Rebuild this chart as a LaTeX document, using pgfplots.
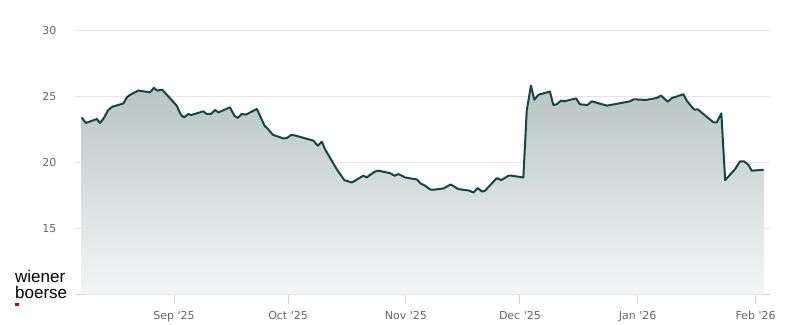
\documentclass[border=0pt]{standalone}
\usepackage{pgfplots}
\pgfplotsset{compat=1.18}
\usepackage{pgfplotstable}
\usepackage{fontspec}
\setmainfont{DejaVu Sans}
\newfontfamily\logofont{Liberation Sans}
\definecolor{linec}{RGB}{16,72,66}
\definecolor{filltop}{RGB}{184,196,195}
\definecolor{fillbot}{RGB}{245,247,247}
\definecolor{gridc}{RGB}{230,230,230}
\definecolor{axisc}{RGB}{204,214,235}
\definecolor{labc}{RGB}{102,102,102}
\definecolor{logored}{RGB}{208,0,27}

% d = days since 1 Sep 2025, v = price
\pgfplotstableread{
d v
-24.3 23.39
-23.2 22.97
-20.3 23.27
-19.5 22.97
-18.6 23.27
-17.3 23.95
-16.2 24.20
-13.3 24.45
-12.4 24.91
-11.6 25.09
-9.4 25.42
-6.3 25.29
-5.3 25.62
-4.4 25.42
-3.1 25.49
0.7 24.28
1.8 23.60
2.6 23.39
3.8 23.65
4.5 23.57
7.7 23.85
8.6 23.65
9.7 23.65
10.8 23.95
11.7 23.77
14.7 24.15
15.9 23.52
16.8 23.35
17.8 23.65
18.9 23.60
21.8 24.03
23.8 22.77
24.7 22.52
26.0 22.08
28.8 21.80
29.7 21.83
30.8 22.06
31.8 22.03
36.7 21.63
37.8 21.25
38.9 21.55
39.7 21.00
42.8 19.48
44.8 18.65
46.8 18.47
49.8 18.98
50.7 18.85
51.6 19.05
52.9 19.30
53.8 19.36
56.8 19.18
58.0 18.98
59.0 19.10
59.5 19.05
60.8 18.85
63.9 18.70
64.9 18.39
66.1 18.22
67.4 17.94
68.2 17.92
70.9 18.02
72.8 18.32
74.8 17.97
77.6 17.86
78.8 17.71
79.9 18.05
81.0 17.79
81.8 17.84
84.9 18.80
86.1 18.65
88.0 18.98
88.9 18.98
91.9 18.85
92.8 23.90
93.9 25.80
94.8 24.73
95.9 25.11
98.9 25.34
99.8 24.33
100.7 24.38
101.8 24.66
102.7 24.61
105.8 24.83
106.8 24.38
108.8 24.33
109.9 24.61
113.9 24.28
120.0 24.61
120.9 24.76
124.2 24.71
127.0 24.86
128.1 25.04
129.9 24.58
131.0 24.86
134.0 25.14
134.9 24.66
135.8 24.33
136.9 23.98
137.8 24.00
141.9 23.02
142.8 23.02
144.0 23.70
145.0 18.65
147.6 19.48
148.9 20.06
150.0 20.06
151.1 19.81
152.0 19.36
155.1 19.43
}\pricedata

\begin{document}
\begin{tikzpicture}[x=1pt,y=1pt]
\begin{axis}[
  at={(0,0)}, anchor=south west,
  scale only axis, width=695pt, height=264.5pt,
  xmin=-26.05, xmax=156.8, ymin=10, ymax=30,
  axis x line=bottom, axis y line=left,
  x axis line style={draw=axisc, line width=1pt, -},
  y axis line style={draw=none},
  xtick={0,30,61,91,122,153},
  xticklabels={Sep \textquotesingle25, Oct \textquotesingle25, Nov \textquotesingle25, Dec \textquotesingle25, Jan \textquotesingle26, Feb \textquotesingle26},
  ytick={15,20,25,30},
  ymajorgrids, major grid style={draw=gridc, line width=1pt},
  tick align=outside,
  major tick length=9pt,
  xtick style={draw=axisc, line width=1pt},
  ytick style={draw=none},
  ticklabel style={font=\fontsize{11}{13}\selectfont, text=labc},
  xticklabel style={yshift=-4pt},
  yticklabel style={xshift=-6pt},
  /pgf/number format/assume math mode=true,
]
\addplot[draw=none, top color=filltop, bottom color=fillbot] table {\pricedata}
  -- (axis cs:155.1,10) -- (axis cs:-24.3,10) -- cycle;
\addplot[linec, line width=2pt, line join=round, mark=none] table {\pricedata};
\end{axis}
\node[anchor=base west, inner sep=0, font=\logofont\fontsize{17}{17}\selectfont] at (-60,-3.7)
  {\vbox{\baselineskip=15.7pt\lineskiplimit=-20pt\hbox{wiener}\hbox{boerse}}};
\fill[logored] (-60,-8) rectangle (-55.7,-11.7);
\path[use as bounding box] (-75,-30) rectangle (725,294.5);
\end{tikzpicture}
\end{document}
